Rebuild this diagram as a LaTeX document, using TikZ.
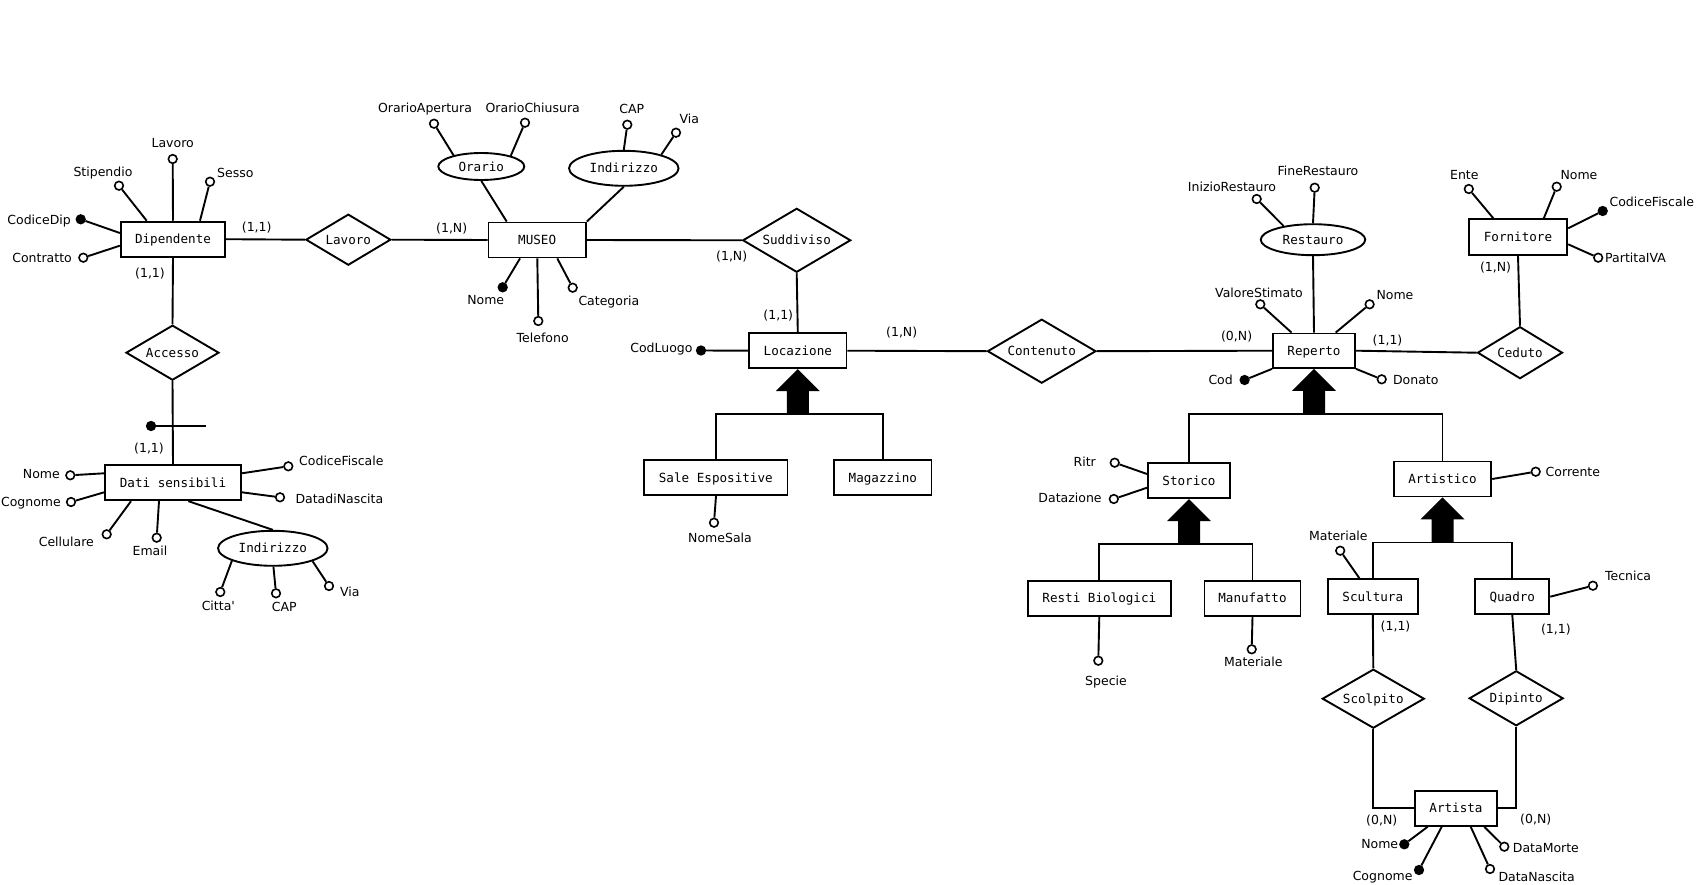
\documentclass[tikz,border=0pt]{standalone}
\usepackage{fontspec}
\setmainfont{DejaVu Sans}
\newfontfamily\sansf{DejaVu Sans}
\newfontfamily\monof{DejaVu Sans Mono}
\usetikzlibrary{shapes.geometric,calc}
\begin{document}
\begin{tikzpicture}[x=1pt,y=-1pt,
  conn/.style={line width=1.9pt},
  ent/.style={draw, line width=1.9pt, rectangle, inner sep=0pt, minimum height=35pt, fill=white,
    font=\monof\fontsize{12.6}{14}\selectfont, text height=9.2pt, text depth=0pt},
  rel/.style={draw, line width=1.9pt, diamond, aspect=2, inner sep=0pt, fill=white,
    font=\monof\fontsize{12.6}{14}\selectfont, text height=9.2pt, text depth=0pt},
  comp/.style={draw, line width=1.9pt, ellipse, inner sep=0pt, fill=white,
    font=\monof\fontsize{12.6}{14}\selectfont, text height=9.2pt, text depth=0pt},
  att/.style={draw, circle, line width=1.6pt, minimum size=8.6pt, inner sep=0pt, fill=white},
  keyatt/.style={att, fill=black},
  lbl/.style={inner sep=0pt, font=\sansf\fontsize{12.5}{14}\selectfont, text height=9.1pt, text depth=0pt},
  isaarrow/.pic={\fill (0,0) -- (-22,22) -- (-11,22) -- (-11,45) -- (11,45) -- (11,22) -- (22,22) -- cycle;}
]
\fill[white] (0,0) rectangle (1700,885);
\useasboundingbox (0,0) rectangle (1700,885);

% ---------- entities ----------
\node[ent, minimum width=104.4] (dip) at (173,239.2) {Dipendente};
\node[ent, minimum width=97.4] (museo) at (537.2,240) {MUSEO};
\node[ent, minimum width=97.4] (loc) at (797.8,350.7) {Locazione};
\node[ent, minimum width=143.4] (sale) at (715.8,477.7) {Sale Espositive};
\node[ent, minimum width=97.4] (mag) at (882.8,477.7) {Magazzino};
\node[ent, minimum width=135.8] (dati) at (173,482.7) {Dati sensibili};
\node[ent, minimum width=82, minimum height=34.4] (rep) at (1314,350.7) {Reperto};
\node[ent, minimum width=98.4, minimum height=36] (forn) at (1518,237.2) {Fornitore};
\node[ent, minimum width=82] (stor) at (1189,480.7) {Storico};
\node[ent, minimum width=97.5] (art) at (1442.5,479) {Artistico};
\node[ent, minimum width=143.5] (resti) at (1099.3,598.3) {Resti Biologici};
\node[ent, minimum width=96] (manu) at (1252.5,598.3) {Manufatto};
\node[ent, minimum width=89.5] (scul) at (1372.8,596.7) {Scultura};
\node[ent, minimum width=74] (quad) at (1512.3,596.7) {Quadro};
\node[ent, minimum width=81.8] (artista) at (1456,808.3) {Artista};

% ---------- relationships ----------
\node[rel, minimum width=85, minimum height=51] (lav) at (348.3,239.7) {Lavoro};
\node[rel, minimum width=108, minimum height=64] (sud) at (796.7,240.3) {Suddiviso};
\node[rel, minimum width=93, minimum height=55] (acc) at (172.5,352.7) {Accesso};
\node[rel, minimum width=108.5, minimum height=64] (cont) at (1041.7,351.2) {Contenuto};
\node[rel, minimum width=85, minimum height=52] (ced) at (1520,352.7) {Ceduto};
\node[rel, minimum width=102, minimum height=59] (scol) at (1373.3,698.7) {Scolpito};
\node[rel, minimum width=94, minimum height=55] (dipi) at (1516.2,698.3) {Dipinto};

% ---------- composite attributes ----------
\node[comp, minimum width=86, minimum height=27] (orario) at (481.3,166.5) {Orario};
\node[comp, minimum width=109.5, minimum height=35] (indm) at (623.8,168.3) {Indirizzo};
\node[comp, minimum width=109.5, minimum height=35] (indd) at (272.8,548.3) {Indirizzo};
\node[comp, minimum width=104.5, minimum height=31] (rest) at (1313,239.7) {Restauro};

% ---------- relationship connectors ----------
\draw[conn] (dip.east) -- (lav.west);
\draw[conn] (lav.east) -- (museo.west);
\draw[conn] (museo.east) -- (sud.west);
\draw[conn] (sud.south) -- (loc.north);
\draw[conn] (loc.east) -- (cont.west);
\draw[conn] (cont.east) -- (rep.west);
\draw[conn] (rep.east) -- (ced.west);
\draw[conn] (forn.south) -- (ced.north);
\draw[conn] (dip.south) -- (acc.north);
\draw[conn] (acc.south) -- (dati.north);
\draw[conn] (scul.south) -- (scol.north);
\draw[conn] (quad.south) -- (dipi.north);
\draw[conn] (scol.south) |- (artista.west);
\draw[conn] (dipi.south) |- (artista.east);
\draw[conn] (orario.south) -- (506.7,0 |- museo.north);
\draw[conn] (indm.south) -- (museo.north east);
\draw[conn] (188.3,0 |- dati.south) -- (indd.north);
\draw[conn] (rest.south) -- (rep.north);

% composite identifier mark on Accesso
\node[keyatt] (idk) at (151,426) {};
\coordinate (idkend) at (206,426);
\draw[conn] (idk) -- (idkend);

% ---------- generalizations ----------
\pic at (loc.south) {isaarrow};
\draw[conn] (sale.north) |- ([yshift=-45pt]loc.south) -| (mag.north);
\pic at (rep.south) {isaarrow};
\draw[conn] (stor.north) |- ([yshift=-45pt]rep.south) -| (art.north);
\pic at (stor.south) {isaarrow};
\draw[conn] (resti.north) |- ([yshift=-45pt]stor.south) -| (manu.north);
\pic at (art.south) {isaarrow};
\draw[conn] (scul.north) |- ([yshift=-45pt]art.south) -| (quad.north);

% ---------- Dipendente attributes ----------
\node[att] (a1) at (172.7,159) {};
\node[lbl] (t1) at (172.7,142.7) {Lavoro};
\draw[conn] (a1) -- (dip.north);
\node[att] (a2) at (119,185.7) {};
\node[lbl] (t2) at (103,171.7) {Stipendio};
\draw[conn] (a2) -- (146.7,0 |- dip.north);
\node[att] (a3) at (210,181.7) {};
\node[lbl, anchor=west] (t3) at (217,172.7) {Sesso};
\draw[conn] (a3) -- (200,0 |- dip.north);
\node[keyatt] (a4) at (80.7,219.3) {};
\node[lbl, anchor=east] (t4) at (71,220) {CodiceDip};
\draw[conn] (a4) -- (dip.west |- 0,233);
\node[att] (a5) at (83.3,257.7) {};
\node[lbl, anchor=east] (t5) at (72,257.7) {Contratto};
\draw[conn] (a5) -- (dip.west |- 0,245.7);

% ---------- MUSEO attributes ----------
\node[att] (a6) at (434,123.7) {};
\node[lbl] (t6) at (425,108.3) {OrarioApertura};
\draw[conn] (a6) -- (orario.158);
\node[att] (a7) at (525,122.7) {};
\node[lbl] (t7) at (532.7,108) {OrarioChiusura};
\draw[conn] (a7) -- (orario.20);
\node[att] (a8) at (627.3,124.7) {};
\node[lbl] (t8) at (631.7,109) {CAP};
\draw[conn] (a8) -- (indm.north);
\node[att] (a9) at (676,132.7) {};
\node[lbl, anchor=west] (t9) at (679.3,119.3) {Via};
\draw[conn] (a9) -- (indm.20);
\node[keyatt] (a10) at (502.7,287.3) {};
\node[lbl] (t10) at (485.7,300) {Nome};
\draw[conn] (a10) -- (520,0 |- museo.south);
\node[att] (a11) at (538.3,321) {};
\node[lbl] (t11) at (542.7,338.3) {Telefono};
\draw[conn] (a11) -- (537.3,0 |- museo.south);
\node[att] (a12) at (572.7,287.7) {};
\node[lbl, anchor=west] (t12) at (578.3,300.7) {Categoria};
\draw[conn] (a12) -- (557.3,0 |- museo.south);

% ---------- Locazione / Sale ----------
\node[keyatt] (a13) at (701,350.5) {};
\node[lbl, anchor=east] (t13) at (692.7,347.7) {CodLuogo};
\draw[conn] (a13) -- (loc.west);
\node[att] (a14) at (714,522.7) {};
\node[lbl] (t14) at (720,538.3) {NomeSala};
\draw[conn] (a14) -- (716,0 |- sale.south);

% ---------- Dati sensibili ----------
\node[att] (a15) at (70.3,475.3) {};
\node[lbl, anchor=east] (t15) at (60,474.3) {Nome};
\draw[conn] (a15) -- (dati.west |- 0,473.3);
\node[att] (a16) at (71,502) {};
\node[lbl, anchor=east] (t16) at (61,501.7) {Cognome};
\draw[conn] (a16) -- (dati.west |- 0,492.3);
\node[att] (a17) at (106.7,534.3) {};
\node[lbl, anchor=east] (t17) at (94,542.3) {Cellulare};
\draw[conn] (a17) -- (131,0 |- dati.south);
\node[att] (a18) at (156.7,537.7) {};
\node[lbl] (t18) at (150,551) {Email};
\draw[conn] (a18) -- (159,0 |- dati.south);
\node[att] (a19) at (288.3,466.3) {};
\node[lbl, anchor=west] (t19) at (299,461.3) {CodiceFiscale};
\draw[conn] (a19) -- (dati.east |- 0,473.3);
\node[att] (a20) at (280,497.3) {};
\node[lbl, anchor=west] (t20) at (295.3,499.3) {DatadiNascita};
\draw[conn] (a20) -- (dati.east |- 0,492.3);
\node[att] (a21) at (220.3,592) {};
\node[lbl] (t21) at (218.3,606) {Citta'};
\draw[conn] (a21) -- (indd.197);
\node[att] (a22) at (276,593.3) {};
\node[lbl] (t22) at (284.3,606.7) {CAP};
\draw[conn] (a22) -- (indd.-88);
\node[att] (a23) at (329,586) {};
\node[lbl, anchor=west] (t23) at (340,592) {Via};
\draw[conn] (a23) -- (indd.-18);

% ---------- Reperto ----------
\node[att] (a24) at (1256.7,199) {};
\node[lbl] (t24) at (1232,186.7) {InizioRestauro};
\draw[conn] (a24) -- (rest.155);
\node[att] (a25) at (1314.7,187.7) {};
\node[lbl] (t25) at (1317.9,171) {FineRestauro};
\draw[conn] (a25) -- (rest.north);
\node[att] (a26) at (1260.3,304.3) {};
\node[lbl] (t26) at (1259,293.3) {ValoreStimato};
\draw[conn] (a26) -- (1291.5,0 |- rep.north);
\node[att] (a27) at (1369.6,304.3) {};
\node[lbl, anchor=west] (t27) at (1376.3,295) {Nome};
\draw[conn] (a27) -- (1335.7,0 |- rep.north);
\node[keyatt] (a28) at (1244.6,380) {};
\node[lbl, anchor=east] (t28) at (1233,380) {Cod};
\draw[conn] (a28) -- (rep.south west);
\node[att] (a29) at (1381.7,379.3) {};
\node[lbl, anchor=west] (t29) at (1392.9,380) {Donato};
\draw[conn] (a29) -- (rep.south east);

% ---------- Fornitore ----------
\node[att] (a30) at (1468.8,189) {};
\node[lbl] (t30) at (1464.3,175) {Ente};
\draw[conn] (a30) -- (1493.3,0 |- forn.north);
\node[att] (a31) at (1556.7,186.7) {};
\node[lbl, anchor=west] (t31) at (1560.3,175) {Nome};
\draw[conn] (a31) -- (1543.8,0 |- forn.north);
\node[keyatt] (a32) at (1602.7,211) {};
\node[lbl, anchor=west] (t32) at (1609.4,201.7) {CodiceFiscale};
\draw[conn] (a32) -- (forn.east |- 0,228.3);
\node[att] (a33) at (1598.2,257.7) {};
\node[lbl, anchor=west] (t33) at (1605,257.7) {PartitaIVA};
\draw[conn] (a33) -- (forn.east |- 0,244.3);

% ---------- Storico / Artistico and subclasses ----------
\node[att] (a34) at (1114.7,462.7) {};
\node[lbl, anchor=east] (t34) at (1096,461.7) {Ritr};
\draw[conn] (a34) -- (stor.west |- 0,474);
\node[att] (a35) at (1113.8,499) {};
\node[lbl, anchor=east] (t35) at (1101.8,497.7) {Datazione};
\draw[conn] (a35) -- (stor.west |- 0,487.7);
\node[att] (a36) at (1535.7,471.7) {};
\node[lbl, anchor=west] (t36) at (1545.5,471.7) {Corrente};
\draw[conn] (a36) -- (art.east);
\node[att] (a37) at (1098.3,660.7) {};
\node[lbl] (t37) at (1106,680.7) {Specie};
\draw[conn] (a37) -- (resti.south);
\node[att] (a38) at (1251.7,649.3) {};
\node[lbl] (t38) at (1253.3,662.3) {Materiale};
\draw[conn] (a38) -- (manu.south);
\node[att] (a39) at (1340.2,550.7) {};
\node[lbl] (t39) at (1338.4,536) {Materiale};
\draw[conn] (a39) -- (1359.4,0 |- scul.north);
\node[att] (a40) at (1592.9,585.7) {};
\node[lbl, anchor=west] (t40) at (1604.9,575.7) {Tecnica};
\draw[conn] (a40) -- (quad.east);

% ---------- Artista ----------
\node[keyatt] (a41) at (1404.3,844.3) {};
\node[lbl, anchor=east] (t41) at (1398.3,844.3) {Nome};
\draw[conn] (a41) -- (1427.7,0 |- artista.south);
\node[keyatt] (a42) at (1419,870) {};
\node[lbl, anchor=east] (t42) at (1412.7,876) {Cognome};
\draw[conn] (a42) -- (1441.7,0 |- artista.south);
\node[att] (a43) at (1504.3,846.7) {};
\node[lbl, anchor=west] (t43) at (1512.7,847.7) {DataMorte};
\draw[conn] (a43) -- (1484.3,0 |- artista.south);
\node[att] (a44) at (1490,869) {};
\node[lbl, anchor=west] (t44) at (1498.3,876.7) {DataNascita};
\draw[conn] (a44) -- (1470.7,0 |- artista.south);

% ---------- cardinalities ----------
\node[lbl] (c1) at (256.7,226.7) {(1,1)};
\node[lbl] (c2) at (150,273.3) {(1,1)};
\node[lbl] (c3) at (451.7,228.3) {(1,N)};
\node[lbl] (c4) at (731.7,256) {(1,N)};
\node[lbl] (c5) at (778.3,315) {(1,1)};
\node[lbl] (c6) at (901.7,332.3) {(1,N)};
\node[lbl] (c7) at (149,447.7) {(1,1)};
\node[lbl] (c8) at (1236.6,335.7) {(0,N)};
\node[lbl] (c9) at (1387.5,340) {(1,1)};
\node[lbl] (c10) at (1495.5,266.7) {(1,N)};
\node[lbl] (c11) at (1395.5,625.7) {(1,1)};
\node[lbl] (c12) at (1555.8,629.3) {(1,1)};
\node[lbl] (c13) at (1381.7,820) {(0,N)};
\node[lbl] (c14) at (1535.7,819.3) {(0,N)};
\end{tikzpicture}
\end{document}
